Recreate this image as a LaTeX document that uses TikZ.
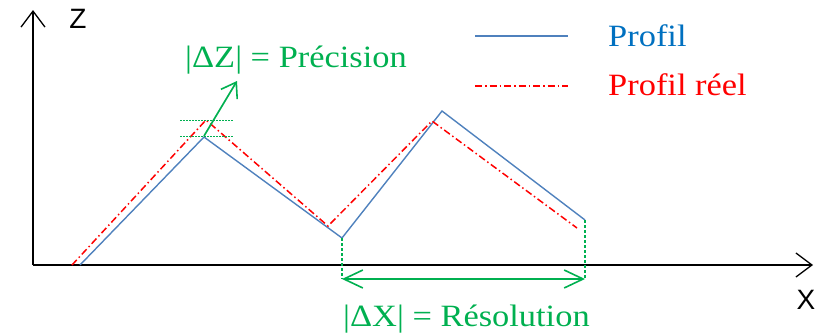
\documentclass[tikz,border=0pt]{standalone}
\usepackage{fontspec}
\setmainfont{Liberation Serif}
\newfontfamily\axisfont{Liberation Sans}
\usetikzlibrary{arrows.meta}
\definecolor{pblue}{RGB}{79,129,189}
\definecolor{tblue}{RGB}{0,112,192}
\definecolor{pgreen}{RGB}{0,176,80}
\tikzset{
  axisline/.style={line width=1.4pt,black,-{Straight Barb[length=16pt,width=24pt,line width=1.3pt]}},
  axislabel/.style={font=\axisfont\fontsize{28}{28}\selectfont,inner sep=0pt},
  profil/.style={line width=1.4pt,pblue},
  reel/.style={line width=1.5pt,red,dash pattern=on 7pt off 3pt on 1.5pt off 3pt},
  guide/.style={line width=1.2pt,pgreen,dash pattern=on 3pt off 2pt},
  thinguide/.style={line width=0.6pt,pgreen,dash pattern=on 2pt off 1pt},
  garrow/.style={line width=1.7pt,pgreen,-{Straight Barb[length=14pt,width=19pt,line width=1.6pt]}},
  gdouble/.style={line width=1.7pt,pgreen,{Straight Barb[length=19pt,width=18pt,line width=1.6pt]}-{Straight Barb[length=19pt,width=18pt,line width=1.6pt]}},
  lbl/.style={inner sep=0pt,anchor=base west,font=\fontsize{31}{31}\selectfont,xscale=1.11}
}
\begin{document}
\begin{tikzpicture}[x=1pt,y=-1pt]
\useasboundingbox (0,0) rectangle (816,333);
% axes
\coordinate (O) at (33,265);
\coordinate (Ztop) at (33,10);
\coordinate (Xend) at (813,265);
\draw[axisline] (O) -- (Ztop);
\draw[axisline] (O) -- (Xend);
\node[axislabel] (zl) at (78,19) {Z};
\node[axislabel] (xl) at (806,300) {X};
% profile
\coordinate (b0) at (80,265);
\coordinate (b1) at (204,137);
\coordinate (b2) at (342,238);
\coordinate (b3) at (442,111);
\coordinate (b4) at (585,220);
\draw[profil] (b0) -- (b1) -- (b2) -- (b3) -- (b4);
% real profile
\coordinate (r0) at (72,265);
\coordinate (r1) at (206,120);
\coordinate (r2) at (328,226);
\coordinate (r3) at (432,121);
\coordinate (r4) at (577,228);
\draw[reel] (r0) -- (r1) -- (r2) -- (r3) -- (r4);
% delta Z
\coordinate (hz1a) at (180,120); \coordinate (hz1b) at (233,120);
\coordinate (hz2a) at (180,136); \coordinate (hz2b) at (233,136);
\draw[thinguide] (hz1a) -- (hz1b);
\draw[thinguide] (hz2a) -- (hz2b);
\coordinate (za) at (204,136);
\coordinate (zb) at (237,81);
\draw[garrow] (za) -- (zb);
\node[lbl,text=pgreen] (prec) at (185,67) {|ΔZ| = Précision};
% delta X
\coordinate (v1) at (342,279);
\coordinate (v2) at (585,279);
\draw[guide] (b2) -- (v1);
\draw[guide] (b4) -- (v2);
\draw[gdouble] (v1) -- (v2);
\node[lbl,text=pgreen] (reso) at (343,326) {|ΔX| = Résolution};
% legend
\coordinate (l1a) at (475,36); \coordinate (l1b) at (568,36);
\coordinate (l2a) at (475,86); \coordinate (l2b) at (568,86);
\draw[profil] (l1a) -- (l1b);
\draw[reel] (l2a) -- (l2b);
\node[lbl,text=tblue] (lg1) at (608,46) {Profil};
\node[lbl,text=red] (lg2) at (608,95) {Profil réel};
\end{tikzpicture}
\end{document}
